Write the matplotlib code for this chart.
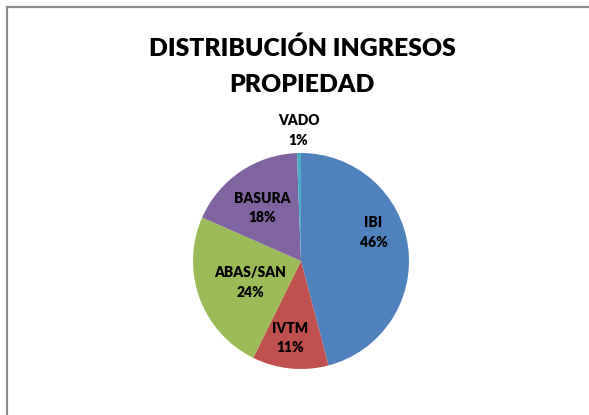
import matplotlib
matplotlib.use("Agg")
import matplotlib.pyplot as plt
import numpy as np
from matplotlib.patches import Rectangle

categories = ["IBI", "IVTM", "ABAS/SAN", "BASURA", "VADO"]
values = [45.9, 11.4, 24.3, 17.8, 0.6]
colors = ["#4F81BD", "#C0504D", "#9BBB59", "#8064A2", "#4BACC6"]
title = "DISTRIBUCIÓN INGRESOS\nPROPIEDAD"

# label layout (radius fraction, angle offset in degrees, clockwise from slice middle)
label_r = [0.72, 0.72, 0.51, 0.61, 1.21]
label_da = [-14, 2, -3, -2, 0]

W, H = 589, 415
fig = plt.figure(figsize=(W / 100, H / 100), dpi=100)
fig.patch.set_facecolor("white")

cx, cy, R = 301, 261, 108
ax = fig.add_axes([(cx - R) / W, (H - cy - R) / H, 2 * R / W, 2 * R / H])

wedges, _ = ax.pie(values, colors=colors, startangle=90, counterclock=False,
                   radius=1.0, wedgeprops=dict(linewidth=0))
ax.set_xlim(-1, 1)
ax.set_ylim(-1, 1)
ax.set_aspect("equal")
ax.axis("off")

total = sum(values)
for w, cat, v, r, da in zip(wedges, categories, values, label_r, label_da):
    mid = (w.theta1 + w.theta2) / 2.0 - da
    x = r * np.cos(np.radians(mid))
    y = r * np.sin(np.radians(mid))
    ax.text(x, y, f"{cat}\n{round(v / total * 100):.0f}%", ha="center", va="center",
            fontsize=10, fontweight="heavy", family=["Lato", "DejaVu Sans"],
            linespacing=1.6, color="black")

fig.text(302 / W, 1 - 66.5 / H, title, ha="center", va="center", fontsize=17.8,
         fontweight="heavy", family=["Lato", "DejaVu Sans"], linespacing=1.75)

fig.add_artist(Rectangle((7 / W, -0.5), 2.0, 1.5 - 7 / H, transform=fig.transFigure,
                         fill=False, edgecolor="#8c8c8c", linewidth=1.6))

fig.savefig("out.png", dpi=100, facecolor="white")
